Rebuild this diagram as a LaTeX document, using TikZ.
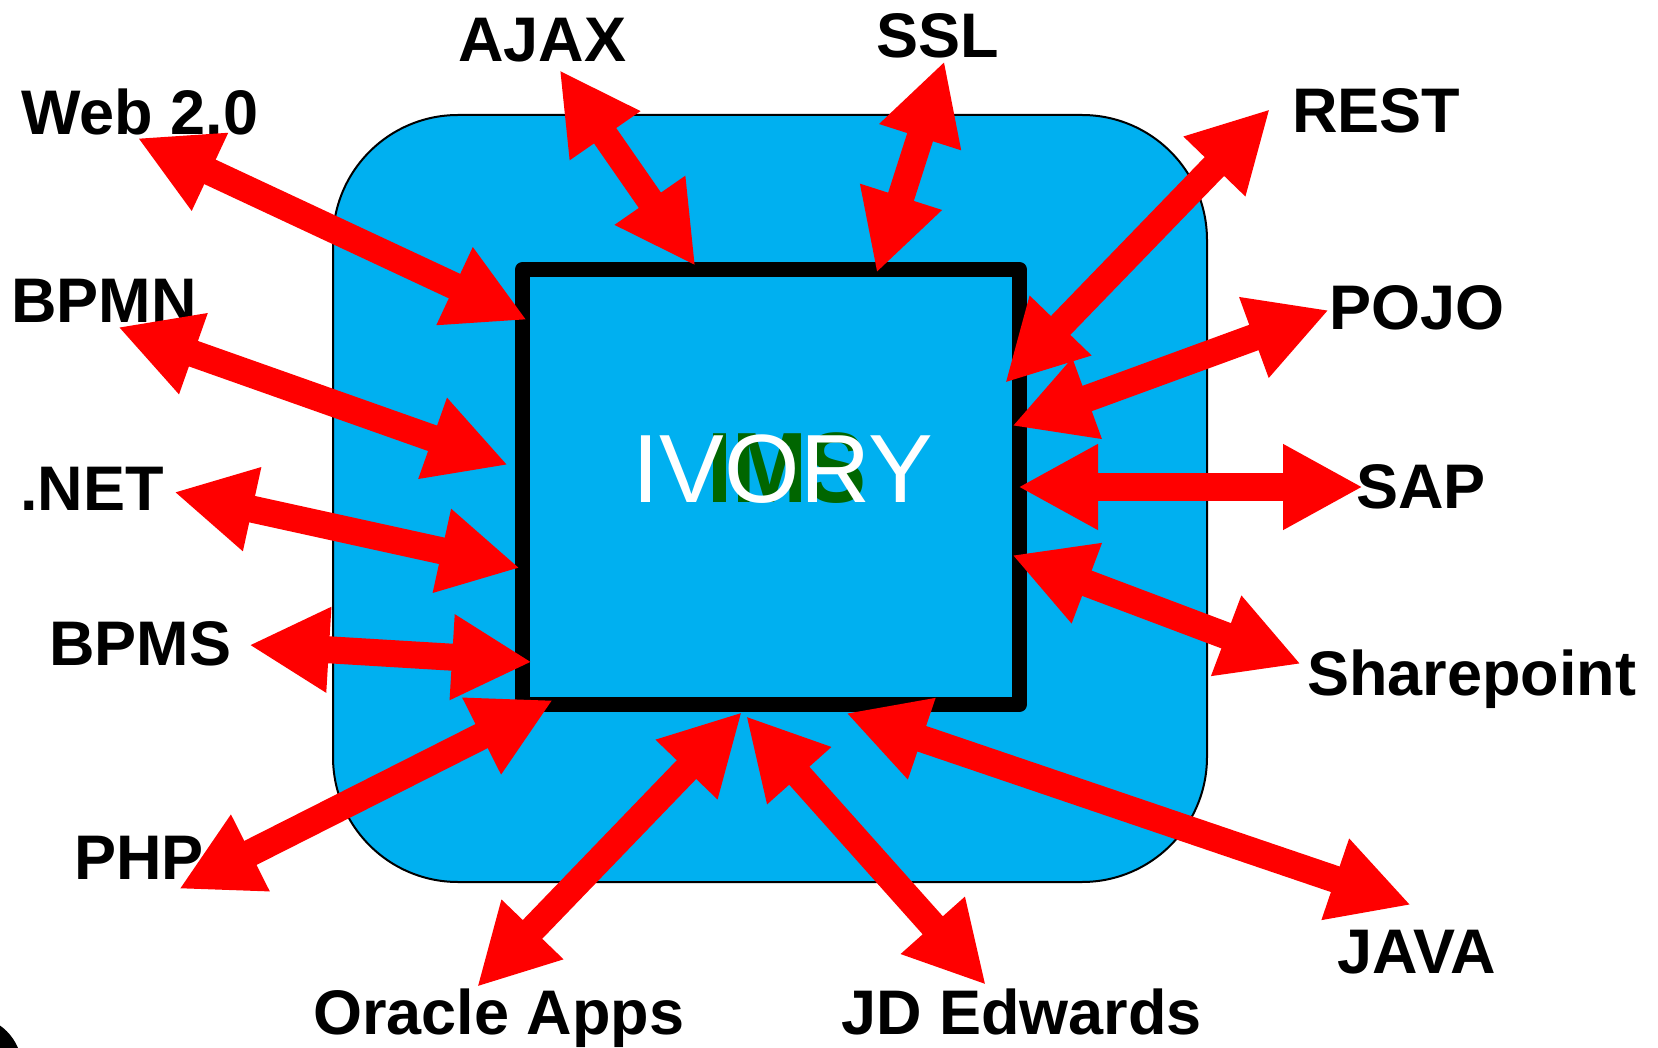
\documentclass[tikz,border=0pt]{standalone}
\usepackage{fontspec}
\setmainfont{Liberation Sans}
\usetikzlibrary{arrows.meta}
\definecolor{boxblue}{RGB}{0,176,240}
\definecolor{imsgreen}{RGB}{0,102,0}
\tikzset{
  lbl/.style={anchor=base west, inner sep=0pt, font=\fontsize{63}{63}\selectfont\bfseries},
  conn/.style={draw=red, line width=27pt,
    {Triangle[length=80pt,width=80pt]}-{Triangle[length=80pt,width=80pt]}},
}
\begin{document}
\begin{tikzpicture}[x=1pt,y=-1pt]
\useasboundingbox (0,0) rectangle (1658,1048);
% corner artefact
\begin{scope}
\clip (0,0) rectangle (1658,1048);
\fill[black] (-30,1068) circle[radius=52];
\end{scope}
% outer rounded box
\draw[fill=boxblue, line width=2pt, rounded corners=125pt] (333,115) rectangle (1207,882);
% inner square
\draw[fill=boxblue, line width=15pt, line join=round] (522.5,269.5) rectangle (1019.5,704.5);
% centre texts
\node[inner sep=0pt, anchor=base, text=imsgreen, xscale=0.9, font=\fontsize{100}{100}\selectfont\bfseries] (ims) at (787,502) {IMS};
\node[inner sep=0pt, anchor=base, text=white, font=\fontsize{97}{97}\selectfont] (ivory) at (783,502) {IVORY};
% labels
\node[lbl] (lweb) at (21,135) {Web 2.0};
\node[lbl] (lajax) at (458,62) {AJAX};
\node[lbl] (lssl) at (876,58) {SSL};
\node[lbl] (lrest) at (1292,133) {REST};
\node[lbl] (lpojo) at (1329,330) {POJO};
\node[lbl] (lbpmn) at (11,323) {BPMN};
\node[lbl] (lnet) at (20,510) {.NET};
\node[lbl] (lbpms) at (49,665) {BPMS};
\node[lbl] (lphp) at (74,879) {PHP};
\node[lbl] (lsap) at (1356,508) {SAP};
\node[lbl] (lshare) at (1307,695) {Sharepoint};
\node[lbl] (ljava) at (1337,973) {JAVA};
\node[lbl] (loracle) at (313,1034) {Oracle Apps};
\node[lbl] (ljd) at (841,1034) {JD Edwards};
% arrow end points
\coordinate (webA) at (137.5,138);  \coordinate (webB) at (527,320);
\coordinate (ajaxA) at (559.5,70);  \coordinate (ajaxB) at (695.5,266);
\coordinate (sslA) at (944.5,61);   \coordinate (sslB) at (876.6,273);
\coordinate (restA) at (1270,109);  \coordinate (restB) at (1005,383);
\coordinate (pojoA) at (1329,310);  \coordinate (pojoB) at (1012,426);
\coordinate (sapA) at (1363,487);   \coordinate (sapB) at (1018,487);
\coordinate (shareA) at (1301,664); \coordinate (shareB) at (1012,555);
\coordinate (javaA) at (1411,905);  \coordinate (javaB) at (846,713);
\coordinate (jdA) at (986,985);     \coordinate (jdB) at (746,716);
\coordinate (oraA) at (477,987);    \coordinate (oraB) at (742,712);
\coordinate (phpA) at (179,889);    \coordinate (phpB) at (553,700);
\coordinate (bpmsA) at (249,645);   \coordinate (bpmsB) at (532,662);
\coordinate (netA) at (174,492);    \coordinate (netB) at (520,568);
\coordinate (bpmnA) at (118,327);   \coordinate (bpmnB) at (508,465);
% arrows
\foreach \n in {web,ajax,ssl,rest,pojo,sap,share,java,jd,ora,php,bpms,net,bpmn}
  \draw[conn] (\n A) -- (\n B);
\end{tikzpicture}
\end{document}
